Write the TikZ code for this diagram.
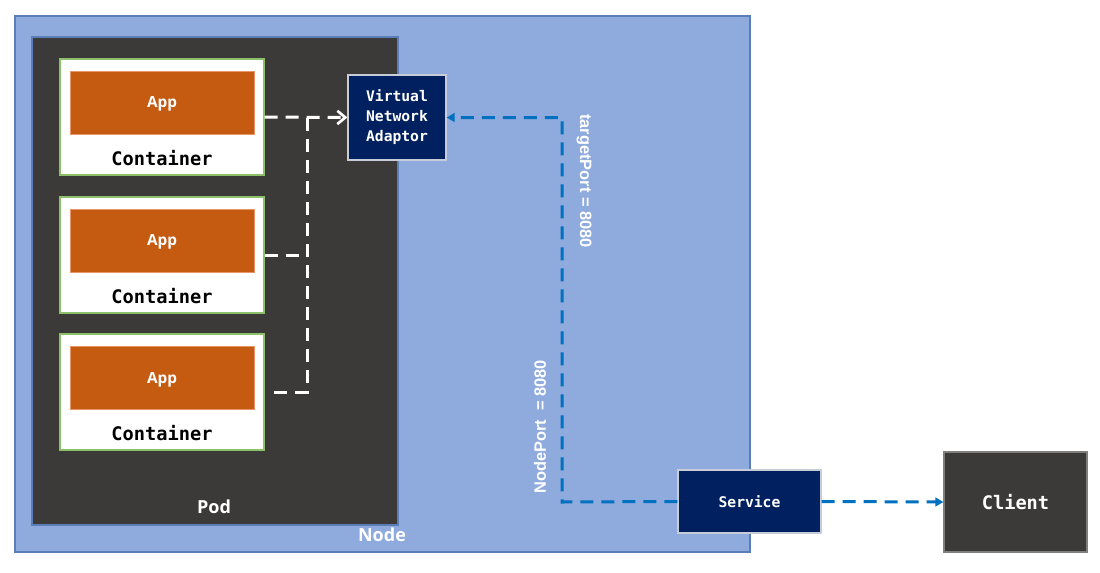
\documentclass[tikz,border=0pt]{standalone}
\usepackage{fontspec}
\usetikzlibrary{arrows.meta}
\newfontfamily\monob{DejaVu Sans Mono}
\newfontfamily\sansb{Open Sans}
\newfontfamily\arialf{Liberation Sans}
\definecolor{nodeblue}{HTML}{8FAADC}
\definecolor{nodeedge}{HTML}{5B7DB8}
\definecolor{podgray}{HTML}{3B3A39}
\definecolor{contedge}{HTML}{8CC06A}
\definecolor{appfill}{HTML}{C55A11}
\definecolor{appedge}{HTML}{E8956A}
\definecolor{navy}{HTML}{002060}
\definecolor{navyedge}{HTML}{C8CCD8}
\definecolor{clientedge}{HTML}{7F7F7F}
\definecolor{arrowblue}{HTML}{0070C0}
\begin{document}
\begin{tikzpicture}[x=0.75pt,y=-0.75pt,
  box/.style={draw,line width=0.9pt,inner sep=0pt,anchor=center},
  nodebox/.style={box,fill=nodeblue,draw=nodeedge,minimum width=551.25pt,minimum height=402pt},
  podbox/.style={box,fill=podgray,draw=nodeedge,minimum width=274.5pt,minimum height=366pt},
  contbox/.style={box,fill=white,draw=contedge,minimum width=153pt,minimum height=87pt},
  appbox/.style={box,line width=0.6pt,fill=appfill,draw=appedge,minimum width=138pt,minimum height=47.25pt},
  applabel/.style={inner sep=0pt,text=white,font=\sansb\bfseries\fontsize{11.5pt}{13pt}\selectfont},
  contlabel/.style={inner sep=0pt,text=black,font=\monob\bfseries\fontsize{14pt}{16pt}\selectfont},
  navybox/.style={box,fill=navy,draw=navyedge,text=white},
  whitelabel/.style={inner sep=0pt,text=white,font=\sansb\bfseries\fontsize{13.5pt}{16pt}\selectfont},
  portlabel/.style={inner sep=0pt,text=white,font=\arialf\bfseries\fontsize{12.3pt}{14pt}\selectfont},
  wline/.style={draw=white,line width=2.25pt,dash pattern=on 9.75pt off 6pt},
  bline/.style={draw=arrowblue,line width=2.25pt,dash pattern=on 9.75pt off 6pt},
]
\useasboundingbox (0,0) rectangle (1100,572);
\fill[white] (0,0) rectangle (1100,572);

\node[nodebox] (node) at (382.5,284) {};
\node[podbox] (pod) at (215,281) {};

\node[contbox] (c1) at (162,117) {};
\node[contbox] (c2) at (162,255) {};
\node[contbox] (c3) at (162,392) {};
\node[appbox] (a1) at (162,102.5) {};
\node[appbox] (a2) at (162,240.5) {};
\node[appbox] (a3) at (162,378) {};
\node[applabel] (t1) at (162,104) {App};
\node[applabel] (t2) at (162,242) {App};
\node[applabel] (t3) at (162,380) {App};
\node[contlabel] (l1) at (162,158) {Container};
\node[contlabel] (l2) at (162,296) {Container};
\node[contlabel] (l3) at (162,433) {Container};

\node[navybox,minimum width=73.5pt,minimum height=63.75pt,align=center,
  font=\monob\bfseries\fontsize{11pt}{15pt}\selectfont] (vna) at (397,117.5)
  {Virtual\\Network\\Adaptor};
\node[navybox,minimum width=107.25pt,minimum height=47.25pt,
  font=\monob\bfseries\fontsize{11pt}{13pt}\selectfont] (svc) at (749.5,501.5) {Service};
\node[box,fill=podgray,draw=clientedge,text=white,minimum width=107.25pt,minimum height=75pt,
  font=\monob\bfseries\fontsize{14pt}{16pt}\selectfont] (client) at (1015.5,502) {Client};

\node[whitelabel] (podlbl) at (214,507) {Pod};
\node[whitelabel] (nodelbl) at (382,535) {Node};

\node[portlabel,rotate=-90] (tp) at (584,181) {targetPort = 8080};
\node[portlabel,rotate=90] (np) at (540,427) {NodePort\ \ = 8080};

% white connectors
\coordinate (j1) at (307,117);
\coordinate (j2) at (307,255);
\coordinate (j3) at (307,392);
\coordinate (s3) at (274,392);
\draw[wline,-{Straight Barb[length=6pt,width=10pt,line width=2pt]}] (c1.east) -- (vna.west);
\draw[wline] (c2.east) -- (j2);
\draw[wline] (s3) -- (j3) -- (j1);

% blue connectors
\coordinate (b1) at (562,502);
\coordinate (b2) at (562,117.5);
\draw[bline,-{Triangle[length=6pt,width=6.5pt]}] (svc.west) -- (b1) -- (b2) -- (vna.east);
\draw[bline,-{Triangle[length=6pt,width=6.5pt]}] (svc.east) -- (client.west);
\end{tikzpicture}
\end{document}
